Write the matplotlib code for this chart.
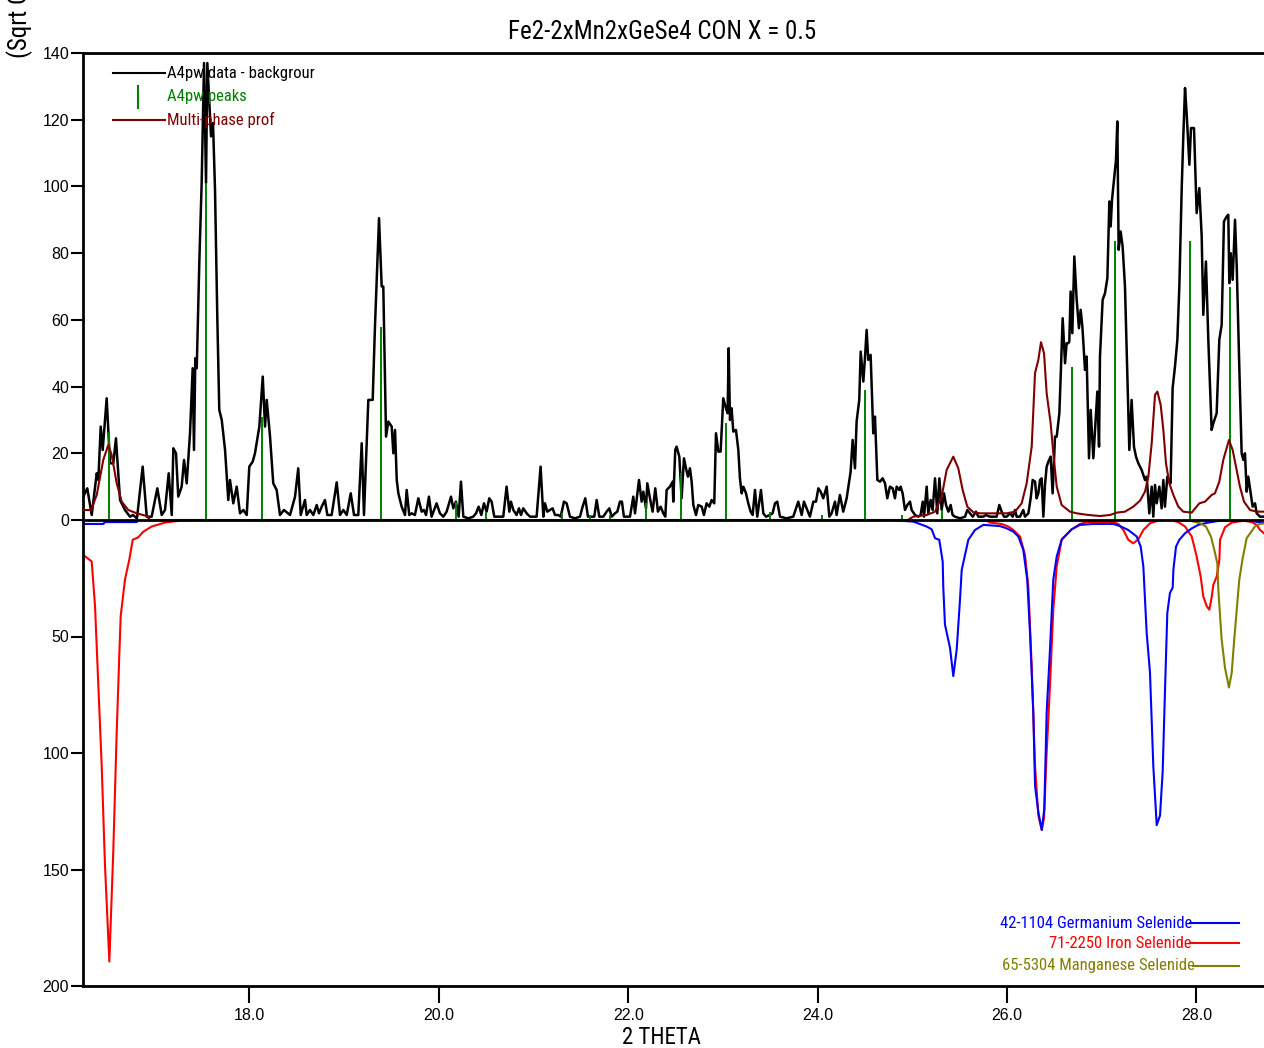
import matplotlib.pyplot as plt
import numpy as np

plt.rcParams['font.family'] = ['Liberation Sans', 'DejaVu Sans']
NARROW = ['Roboto Condensed', 'Liberation Sans Narrow', 'Liberation Sans']

TITLE = 'Fe2-2xMn2xGeSe4 CON X = 0.5'

# A4pw data - background, (2theta, sqrt counts)
data_pts = [
    (16.245, 7), (16.287, 9.5), (16.334, 1.5), (16.387, 14), (16.404, 12), (16.429, 28),
    (16.450, 21), (16.492, 36.5), (16.527, 17), (16.562, 17), (16.590, 24.5), (16.633, 6),
    (16.685, 3), (16.738, 1), (16.770, 1.5), (16.812, 0.5), (16.872, 16), (16.915, 1),
    (16.967, 1), (17.027, 9.5), (17.073, 1.5), (17.108, 3), (17.147, 14), (17.179, 1.5),
    (17.196, 21.5), (17.224, 20), (17.248, 7), (17.284, 10), (17.309, 18), (17.337, 11),
    (17.372, 26), (17.400, 45.5), (17.414, 21), (17.428, 48.5), (17.443, 45.5), (17.470, 77),
    (17.495, 101), (17.520, 137), (17.541, 101), (17.555, 137), (17.594, 115), (17.615, 119),
    (17.636, 99), (17.660, 61), (17.681, 33), (17.707, 30), (17.742, 21), (17.776, 6),
    (17.794, 12), (17.829, 5), (17.865, 10), (17.900, 2), (17.935, 3), (17.971, 1.5),
    (17.998, 16), (18.034, 17.5), (18.058, 20), (18.104, 28), (18.140, 43), (18.164, 28),
    (18.182, 36), (18.217, 25), (18.251, 11), (18.287, 9), (18.322, 1.5), (18.364, 3),
    (18.428, 1.5), (18.481, 7), (18.515, 15.5), (18.541, 1.5), (18.586, 6), (18.604, 1.5),
    (18.639, 3), (18.674, 1.5), (18.710, 4.5), (18.734, 2), (18.763, 4), (18.797, 6),
    (18.822, 1.5), (18.868, 1.5), (18.921, 11.3), (18.956, 1.5), (18.991, 3), (19.027, 1.5),
    (19.069, 8), (19.104, 1.5), (19.149, 1.5), (19.185, 23), (19.209, 1.5), (19.255, 36),
    (19.301, 36), (19.325, 58), (19.368, 90.5), (19.396, 70), (19.413, 70), (19.442, 25),
    (19.466, 29.5), (19.502, 28), (19.519, 20), (19.537, 27), (19.555, 12), (19.572, 8),
    (19.607, 4), (19.642, 1.5), (19.660, 9), (19.687, 1.5), (19.712, 2), (19.747, 1.5),
    (19.783, 6.5), (19.818, 2.5), (19.842, 3), (19.864, 1.5), (19.895, 7), (19.923, 1),
    (19.976, 5), (20.011, 2), (20.047, 1), (20.082, 2.5), (20.128, 7), (20.152, 3.5),
    (20.180, 5.5), (20.209, 1), (20.233, 11.5), (20.258, 1), (20.311, 0.5), (20.363, 1),
    (20.392, 2), (20.420, 4), (20.448, 1.5), (20.476, 5), (20.504, 2.5), (20.532, 6.5),
    (20.557, 5.5), (20.585, 1), (20.645, 1), (20.680, 1), (20.715, 10), (20.744, 2.5),
    (20.761, 5.5), (20.786, 3), (20.821, 1.5), (20.846, 3.5), (20.867, 1.5), (20.891, 3.5),
    (20.927, 2), (20.962, 1), (21.032, 1), (21.074, 16), (21.103, 1), (21.120, 5),
    (21.145, 2.5), (21.173, 3), (21.201, 3.5), (21.226, 1.5), (21.261, 1.5), (21.286, 1),
    (21.321, 5.5), (21.349, 5), (21.384, 1), (21.437, 0.5), (21.490, 1), (21.518, 4),
    (21.546, 6.5), (21.574, 1), (21.609, 1), (21.641, 1), (21.666, 6), (21.694, 1),
    (21.736, 1), (21.771, 2.5), (21.800, 3.5), (21.824, 1), (21.859, 2), (21.884, 2.5),
    (21.912, 5.5), (21.933, 5.5), (21.954, 1), (22.018, 1), (22.053, 7), (22.071, 2),
    (22.088, 6), (22.113, 12), (22.141, 5.5), (22.159, 8.5), (22.187, 3.5), (22.201, 11),
    (22.229, 6.5), (22.257, 2.5), (22.285, 9.5), (22.313, 2.5), (22.342, 4), (22.370, 2),
    (22.391, 1), (22.405, 9), (22.440, 10), (22.468, 11.5), (22.475, 5.5), (22.496, 21),
    (22.510, 22), (22.539, 19), (22.563, 6.5), (22.588, 18.5), (22.609, 15.5), (22.630, 13),
    (22.651, 15.5), (22.669, 11.5), (22.687, 4.5), (22.715, 1.5), (22.739, 4.5), (22.775, 4),
    (22.799, 1.5), (22.827, 5), (22.856, 4), (22.880, 6), (22.908, 5), (22.926, 26),
    (22.951, 20.5), (22.975, 20.5), (23.003, 36.5), (23.031, 33.5), (23.049, 32), (23.060, 51.5),
    (23.074, 30), (23.091, 33.5), (23.109, 26.5), (23.137, 27), (23.162, 21), (23.179, 12.5),
    (23.197, 8), (23.215, 10), (23.243, 8), (23.267, 5), (23.292, 2.5), (23.313, 1.5),
    (23.338, 9), (23.362, 1), (23.401, 9), (23.426, 2), (23.454, 1), (23.496, 1.5),
    (23.524, 2), (23.549, 5), (23.573, 5.5), (23.602, 1), (23.672, 0.5), (23.742, 1),
    (23.795, 5.5), (23.831, 1.5), (23.855, 5.5), (23.883, 3.5), (23.918, 1), (23.954, 5.5),
    (23.982, 5.5), (24.007, 9.5), (24.031, 8.5), (24.059, 6.5), (24.095, 10), (24.123, 1),
    (24.147, 2), (24.183, 5.5), (24.200, 1.5), (24.235, 7.5), (24.270, 2.5), (24.306, 6.5),
    (24.348, 14.5), (24.369, 24), (24.394, 15.5), (24.411, 29.5), (24.439, 36), (24.454, 50.5),
    (24.482, 41.5), (24.499, 48.5), (24.517, 57), (24.534, 48), (24.559, 49.5), (24.587, 26),
    (24.605, 31), (24.630, 12), (24.658, 11.5), (24.686, 12.5), (24.711, 11), (24.735, 6.5),
    (24.763, 10), (24.792, 9.5), (24.816, 6.5), (24.834, 10), (24.862, 9), (24.876, 10),
    (24.897, 8), (24.922, 3), (24.947, 4.5), (24.975, 5.5), (24.992, 3), (25.028, 1.5),
    (25.063, 1), (25.087, 1.5), (25.109, 5.5), (25.123, 1), (25.151, 10), (25.168, 2),
    (25.193, 6), (25.214, 3), (25.239, 12.5), (25.263, 2), (25.285, 12.5), (25.309, 3),
    (25.334, 8), (25.355, 4.5), (25.380, 2.5), (25.404, 4.5), (25.425, 1.5), (25.450, 1),
    (25.503, 0.5), (25.556, 1), (25.580, 3), (25.608, 2), (25.637, 1), (25.672, 2.5),
    (25.696, 1), (25.749, 1), (25.777, 1.5), (25.820, 1), (25.890, 1), (25.918, 4.5),
    (25.943, 2.5), (25.967, 1), (25.996, 1), (26.031, 2), (26.059, 1), (26.084, 3),
    (26.101, 1), (26.136, 1), (26.171, 3), (26.189, 1), (26.225, 2), (26.249, 6.5),
    (26.270, 12), (26.295, 11.5), (26.312, 6.5), (26.330, 8), (26.348, 12), (26.365, 12.5),
    (26.383, 1), (26.400, 10.5), (26.418, 16), (26.436, 17.5), (26.460, 19), (26.481, 8),
    (26.506, 25), (26.524, 25), (26.552, 32), (26.566, 43), (26.587, 60.5), (26.612, 47),
    (26.629, 53), (26.647, 53), (26.657, 53.5), (26.671, 68.5), (26.689, 56), (26.710, 79),
    (26.735, 66), (26.759, 57.5), (26.777, 63), (26.795, 58), (26.823, 45), (26.840, 49),
    (26.865, 18.5), (26.883, 33), (26.911, 18.5), (26.939, 32), (26.953, 38.5), (26.971, 22),
    (26.981, 49), (27.009, 66), (27.034, 68), (27.059, 72.5), (27.080, 95.5), (27.094, 88),
    (27.108, 96), (27.129, 102), (27.150, 108), (27.164, 119.5), (27.178, 81), (27.199, 86.5),
    (27.220, 82), (27.245, 70), (27.270, 44), (27.291, 21), (27.315, 36), (27.340, 22),
    (27.361, 19), (27.386, 17), (27.403, 16), (27.421, 15), (27.439, 13.5), (27.456, 12),
    (27.474, 13), (27.502, 2), (27.527, 10), (27.544, 1), (27.562, 10.5), (27.580, 5),
    (27.608, 10), (27.632, 3.5), (27.650, 12), (27.667, 4), (27.692, 13), (27.713, 11.5),
    (27.727, 11), (27.748, 39.5), (27.773, 46), (27.798, 54), (27.819, 70), (27.844, 99.5),
    (27.861, 115), (27.879, 129.5), (27.896, 122), (27.925, 106.5), (27.942, 117.5), (27.974, 117.5),
    (28.002, 92), (28.030, 99.5), (28.055, 85), (28.072, 61.5), (28.100, 77.5), (28.125, 54),
    (28.160, 27), (28.178, 29), (28.213, 32), (28.241, 54), (28.266, 58.5), (28.290, 89.5),
    (28.319, 91), (28.336, 91.5), (28.347, 71), (28.361, 80), (28.382, 72), (28.407, 90),
    (28.425, 76), (28.452, 46), (28.477, 20), (28.495, 18), (28.512, 20), (28.530, 8.5),
    (28.547, 13), (28.572, 8), (28.593, 4), (28.618, 5), (28.636, 2), (28.671, 1),
    (28.706, 1),
]

# A4pw peaks (stick positions / heights)
peak_2theta = [16.515, 17.543, 18.135, 19.384, 20.183, 20.493, 21.302, 21.591, 21.802, 22.189, 22.552,
               23.034, 23.499, 24.048, 24.495, 24.893, 25.315, 26.688, 27.135, 27.934, 28.356]
peak_height = [26.5, 101, 31, 58, 5.5, 2.5, 2, 1.5, 1.5, 5, 14,
               29, 2.5, 1.5, 39, 1.5, 3, 46, 83.5, 83.5, 70]

# Multi-phase profile
prof_pts = [
    (16.242, 3), (16.327, 3), (16.387, 7.5), (16.456, 18), (16.509, 22.5), (16.545, 19.5),
    (16.598, 11), (16.651, 5.5), (16.720, 3), (16.809, 2), (16.915, 1.2), (16.95, 0),
    (24.95, 0), (25.010, 1), (25.151, 1.5), (25.239, 2.5), (25.309, 7), (25.362, 15),
    (25.432, 19), (25.485, 15.5), (25.531, 9), (25.580, 4), (25.644, 2.3), (25.714, 2),
    (25.890, 2), (25.996, 2), (26.084, 2.5), (26.154, 5), (26.207, 11), (26.260, 22),
    (26.295, 44), (26.330, 48), (26.358, 53.3), (26.390, 50), (26.418, 38), (26.460, 29),
    (26.488, 20), (26.524, 10), (26.576, 4.5), (26.664, 2.5), (26.735, 2), (26.858, 1.5),
    (26.981, 1.2), (27.087, 1.5), (27.157, 2.2), (27.245, 2.5), (27.333, 4), (27.404, 5.8),
    (27.456, 8.5), (27.492, 13), (27.527, 23), (27.562, 37.5), (27.587, 38.5), (27.622, 34.5),
    (27.650, 27), (27.678, 17), (27.713, 11), (27.756, 7.5), (27.808, 4), (27.861, 2.5),
    (27.949, 2.2), (28.030, 5), (28.090, 5.5), (28.160, 7.5), (28.195, 8), (28.241, 11.5),
    (28.283, 18), (28.343, 24), (28.382, 21), (28.417, 16), (28.459, 10), (28.502, 5.5),
    (28.565, 3), (28.636, 2.5), (28.713, 2.5),
]

# reference patterns, drawn downward
gese_pts = [
    (16.245, 1.7), (16.456, 1.7), (16.474, 0.9), (16.809, 0.9), (16.826, 0), (24.764, 0),
    (25.010, 0.7), (25.151, 2.8), (25.204, 4), (25.239, 7.8), (25.284, 8.5), (25.320, 17.8),
    (25.326, 28.5), (25.344, 44.9), (25.397, 54.8), (25.432, 67), (25.468, 55.6), (25.503, 34),
    (25.521, 21.4), (25.591, 8.5), (25.661, 4.3), (25.749, 2.1), (25.925, 2.6), (25.996, 3.6),
    (26.066, 5), (26.119, 7.1), (26.171, 12.8), (26.213, 25.6), (26.242, 48.4), (26.277, 82.6),
    (26.295, 114), (26.330, 125.3), (26.366, 133), (26.393, 124), (26.418, 82.6), (26.453, 55.6),
    (26.488, 25.6), (26.524, 15.7), (26.577, 8.3), (26.682, 4), (26.770, 2.1), (26.911, 1.7),
    (27.122, 1.7), (27.192, 2.6), (27.280, 4.3), (27.369, 7.1), (27.411, 11.4), (27.439, 20),
    (27.474, 48.4), (27.509, 65.5), (27.544, 105.4), (27.580, 131), (27.615, 126.8), (27.643, 108),
    (27.667, 74), (27.692, 39.9), (27.720, 31.3), (27.749, 29), (27.756, 21.4), (27.784, 11.4),
    (27.819, 8.5), (27.879, 5.7), (27.950, 3.6), (28.019, 2.1), (28.125, 1.1), (28.248, 0.3),
    (28.424, 0), (28.600, 0.5), (28.671, 1.1), (28.713, 1.3),
]
fese_pts = [
    (16.245, 15), (16.334, 17.8), (16.369, 37), (16.404, 71), (16.439, 105), (16.474, 148),
    (16.520, 189.5), (16.562, 142), (16.598, 91), (16.625, 58.4), (16.640, 41.3), (16.685, 25.6),
    (16.731, 17), (16.767, 8.5), (16.826, 7.4), (16.879, 5), (16.967, 2.8), (17.108, 1.1),
    (17.284, 0.2), (17.530, 0), (25.574, 0), (25.785, 0.3), (25.820, 1.1), (25.943, 1.7),
    (26.013, 2.8), (26.066, 4.3), (26.137, 7.1), (26.189, 15), (26.224, 28.5), (26.260, 62.7),
    (26.295, 105.4), (26.330, 126.8), (26.366, 133), (26.390, 128), (26.418, 99.7), (26.453, 71.2),
    (26.488, 38.5), (26.524, 20), (26.577, 8.5), (26.682, 4), (26.770, 1.7), (26.841, 0.9),
    (27.122, 0.9), (27.175, 1.7), (27.228, 4.3), (27.280, 8.5), (27.333, 10), (27.386, 8.3),
    (27.439, 4.3), (27.509, 1.4), (27.615, 0), (27.721, 0), (27.808, 0.9), (27.879, 2.8),
    (27.950, 7.1), (28.002, 15.7), (28.044, 24.2), (28.072, 32.8), (28.108, 37), (28.136, 38.5),
    (28.161, 33), (28.178, 27.8), (28.214, 24.2), (28.242, 17), (28.249, 8.5), (28.302, 3.1),
    (28.372, 1.1), (28.495, 0.3), (28.583, 0.9), (28.636, 2.1), (28.671, 4.3), (28.713, 5.7),
]
mnse_pts = [
    (27.756, 0), (27.932, 0.3), (28.037, 1.4), (28.100, 2.8), (28.153, 7.1), (28.188, 12.8),
    (28.220, 18.5), (28.231, 30), (28.249, 41.3), (28.266, 51.3), (28.301, 63.4), (28.343, 71.9),
    (28.372, 65.5), (28.396, 52.7), (28.425, 38.5), (28.452, 25.6), (28.488, 16.4), (28.530, 7.8),
    (28.572, 5.4), (28.617, 2.8), (28.671, 1.7), (28.713, 1.5),
]

ref_labels = ['42-1104 Germanium Selenide', '71-2250 Iron Selenide', '65-5304 Manganese Selenide']
ref_colors = ['#0000ff', '#ff0000', '#808000']

XLIM = (16.242, 28.713)
W, H = 1264, 1048

fig = plt.figure(figsize=(W / 100, H / 100), dpi=100)
axb = fig.add_axes([83 / W, 1 - 986 / H, 1181 / W, 466 / H])
ax = fig.add_axes([83 / W, 1 - 520 / H, 1181 / W, 467 / H])
ax.patch.set_alpha(0)

d = np.array(data_pts)
p = np.array(prof_pts)
ax.plot(d[:, 0], d[:, 1], color='black', lw=1.8, zorder=3)
ax.vlines(peak_2theta, 0, peak_height, color='#008000', lw=1.4, zorder=4)
ax.plot(p[:, 0], p[:, 1], color='#800000', lw=1.5, zorder=5)

ax.set_xlim(*XLIM)
ax.set_ylim(0, 140)
ax.set_yticks(np.arange(0, 141, 20))
ax.tick_params(axis='x', bottom=False, labelbottom=False)
ax.tick_params(axis='y', direction='out', length=9, width=1.5, pad=1, labelsize=11.5)
ax.spines['right'].set_visible(False)
for s in ('top', 'left', 'bottom'):
    ax.spines[s].set_linewidth(2)
ax.spines['bottom'].set_zorder(6)

# upper legend
ax.plot([0.0254, 0.0694], [0.957, 0.957], color='black', lw=1.5, transform=ax.transAxes, clip_on=False)
ax.text(0.0711, 0.957, 'A4pw data - backgrour', color='black', fontsize=12, family=NARROW,
        va='center', transform=ax.transAxes)
ax.plot([0.0466, 0.0466], [0.882, 0.929], color='#008000', lw=1.5, transform=ax.transAxes, clip_on=False)
ax.text(0.0711, 0.906, 'A4pw peaks', color='#008000', fontsize=12, family=NARROW,
        va='center', transform=ax.transAxes)
ax.plot([0.0254, 0.0694], [0.8565, 0.8565], color='#800000', lw=1.5, transform=ax.transAxes, clip_on=False)
ax.text(0.0711, 0.8565, 'Multi-phase prof', color='#800000', fontsize=12, family=NARROW,
        va='center', transform=ax.transAxes)

for pts, c in zip([fese_pts, gese_pts, mnse_pts], [ref_colors[1], ref_colors[0], ref_colors[2]]):
    a = np.array(pts)
    axb.plot(a[:, 0], a[:, 1], color=c, lw=1.5)

axb.set_xlim(*XLIM)
axb.set_ylim(200, 0)
axb.set_yticks([50, 100, 150, 200])
axb.set_xticks(np.arange(18, 28.5, 2))
axb.set_xticklabels([f'{v:.1f}' for v in np.arange(18, 28.5, 2)])
axb.tick_params(axis='y', direction='out', length=9, width=1.5, pad=1, labelsize=11.5)
axb.tick_params(axis='x', direction='out', length=12, width=1.5, pad=4, labelsize=11.5)
axb.spines['right'].set_visible(False)
axb.spines['top'].set_visible(False)
for s in ('left', 'bottom'):
    axb.spines[s].set_linewidth(2)

# lower legend
for lab, c, ty, tx in zip(ref_labels, ref_colors, [0.135, 0.092, 0.043], [0.939, 0.939, 0.9416]):
    axb.text(tx, ty, lab, color=c, fontsize=12, family=NARROW, ha='right', va='center',
             transform=axb.transAxes)
    axb.plot([tx - 0.002, 0.979], [ty, ty], color=c, lw=1.5, transform=axb.transAxes, clip_on=False)

fig.text(662 / W, 1 - 32 / H, TITLE, ha='center', va='center', fontsize=18, family=NARROW)
fig.text(661 / W, 1 - 1037 / H, '2 THETA', ha='center', va='center', fontsize=16.5, family=NARROW)
fig.text(20 / W, 1 - 58 / H, '(Sqrt Counts)', rotation=90, ha='center', va='bottom',
         fontsize=18, family=NARROW)

fig.savefig('out.png', dpi=100)
